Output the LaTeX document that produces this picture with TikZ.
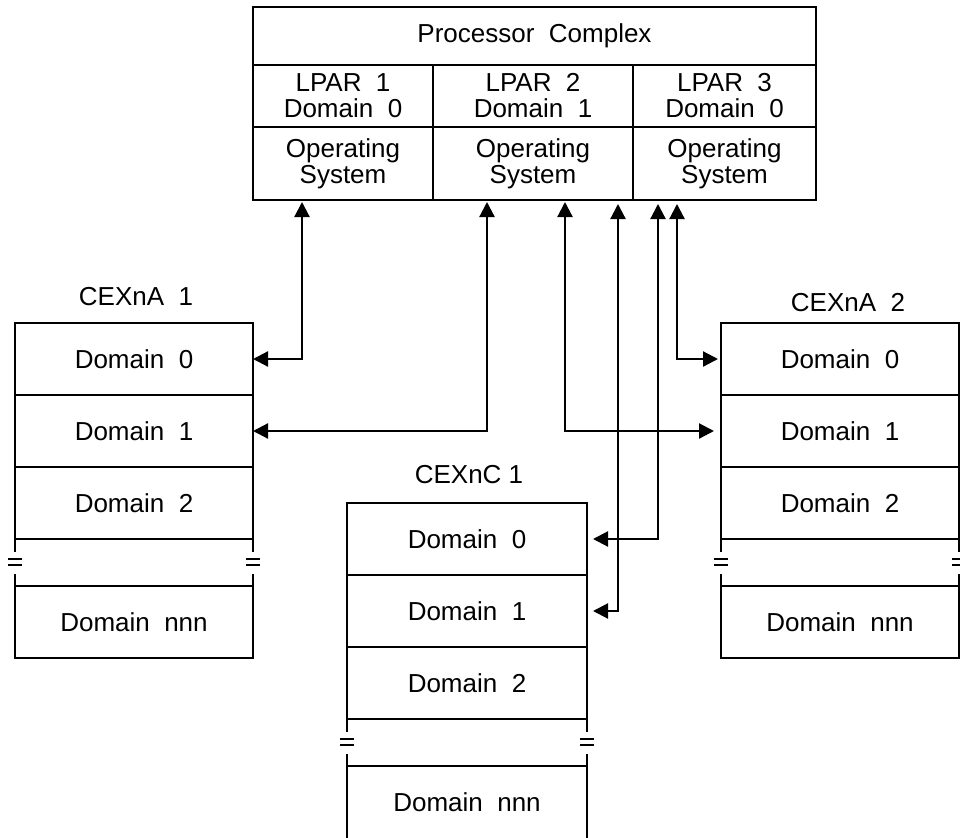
\documentclass[tikz,border=0pt]{standalone}
\usepackage{fontspec}
\setmainfont{Liberation Sans}
\usetikzlibrary{arrows.meta, positioning}
\tikzset{cell/.style = {shape=rectangle, draw, line width=2.4pt, inner sep=2pt, outer sep=0pt, minimum width=238pt, minimum height=72pt, align=center, font=\fontsize{26}{26}\selectfont}}
\tikzset{title/.style = {inner sep=0pt, outer sep=0pt, font=\fontsize{26}{26}\selectfont}}
\tikzset{link/.style = {{Triangle[length=15pt,width=15pt]}-{Triangle[length=15pt,width=15pt]}, line width=2.2pt}}
\tikzset{rail/.style = {line width=2.4pt}}
% broken side walls between the domain 2 box and the domain nnn box
\newcommand{\cutbreak}[2]{%
  \foreach \s in {west,east} {
    \draw[rail] (#1.south \s) -- ++(0,13);
    \draw[rail] (#2.north \s) -- ++(0,-12);
    \draw[line width=1.8pt] ([xshift=-7pt,yshift=-20pt]#1.south \s) -- ([xshift=7pt,yshift=-20pt]#1.south \s);
    \draw[line width=1.8pt] ([xshift=-7pt,yshift=-26pt]#1.south \s) -- ([xshift=7pt,yshift=-26pt]#1.south \s);
  }}

\begin{document}
\begin{tikzpicture}[x=1pt, y=-1pt]
    \useasboundingbox (0,0) rectangle (960,837);

    % processor complex
    \node[cell, minimum width=563pt, minimum height=58pt] (pc) at (534.5,36) {Processor~~Complex};
    \node[cell, minimum width=180pt, minimum height=62pt] (lp1) at (343,96) {LPAR~~1\\Domain~~0};
    \node[cell, minimum width=200pt, minimum height=62pt] (lp2) at (533,96) {LPAR~~2\\Domain~~1};
    \node[cell, minimum width=183pt, minimum height=62pt] (lp3) at (724.5,96) {LPAR~~3\\Domain~~0};
    \node[cell, minimum width=180pt, minimum height=73pt, below=0pt of lp1] (os1) {Operating\\System};
    \node[cell, minimum width=200pt, minimum height=73pt, below=0pt of lp2] (os2) {Operating\\System};
    \node[cell, minimum width=183pt, minimum height=73pt, below=0pt of lp3] (os3) {Operating\\System};

    % CEXnA 1
    \node[cell] (a1d0) at (134,359) {Domain~~0};
    \node[cell, below=0pt of a1d0] (a1d1) {Domain~~1};
    \node[cell, below=0pt of a1d1] (a1d2) {Domain~~2};
    \node[cell, below=47pt of a1d2] (a1dn) {Domain~~nnn};
    \node[title, above=17pt of a1d0, xshift=2pt] (a1) {CEXnA~~1};
    \cutbreak{a1d2}{a1dn}

    % CEXnA 2
    \node[cell] (a2d0) at (840,359) {Domain~~0};
    \node[cell, below=0pt of a2d0] (a2d1) {Domain~~1};
    \node[cell, below=0pt of a2d1] (a2d2) {Domain~~2};
    \node[cell, below=47pt of a2d2] (a2dn) {Domain~~nnn};
    \node[title, above=11pt of a2d0, xshift=8pt] (a2) {CEXnA~~2};
    \cutbreak{a2d2}{a2dn}

    % CEXnC 1
    \node[cell, minimum width=240pt] (cd0) at (467,539) {Domain~~0};
    \node[cell, minimum width=240pt, below=0pt of cd0] (cd1) {Domain~~1};
    \node[cell, minimum width=240pt, below=0pt of cd1] (cd2) {Domain~~2};
    \node[cell, draw=none, minimum width=240pt, below=47pt of cd2] (cdn) {Domain~~nnn};
    \draw[rail] (cdn.south west) |- (cdn.north east) -- (cdn.south east);
    \node[title, above=19pt of cd0, xshift=2pt] (c1) {CEXnC 1};
    \cutbreak{cd2}{cdn}

    % links
    \draw[link, shorten >=2pt] (a1d0.east) -| ([xshift=-41pt]os1.south);
    \draw[link, shorten >=2pt] (a1d1.east) -| ([xshift=-46pt]os2.south);
    \draw[link, shorten <=7pt, shorten >=2pt] (a2d1.west) -| ([xshift=32pt]os2.south);
    \draw[link, shorten <=6pt, shorten >=4pt] (cd1.east) -| ([xshift=85pt]os2.south);
    \draw[link, shorten <=6pt, shorten >=4pt] (cd0.east) -| ([xshift=-66.5pt]os3.south);
    \draw[link, shorten <=3pt, shorten >=4pt] (a2d0.west) -| ([xshift=-47.5pt]os3.south);
\end{tikzpicture}
\end{document}
